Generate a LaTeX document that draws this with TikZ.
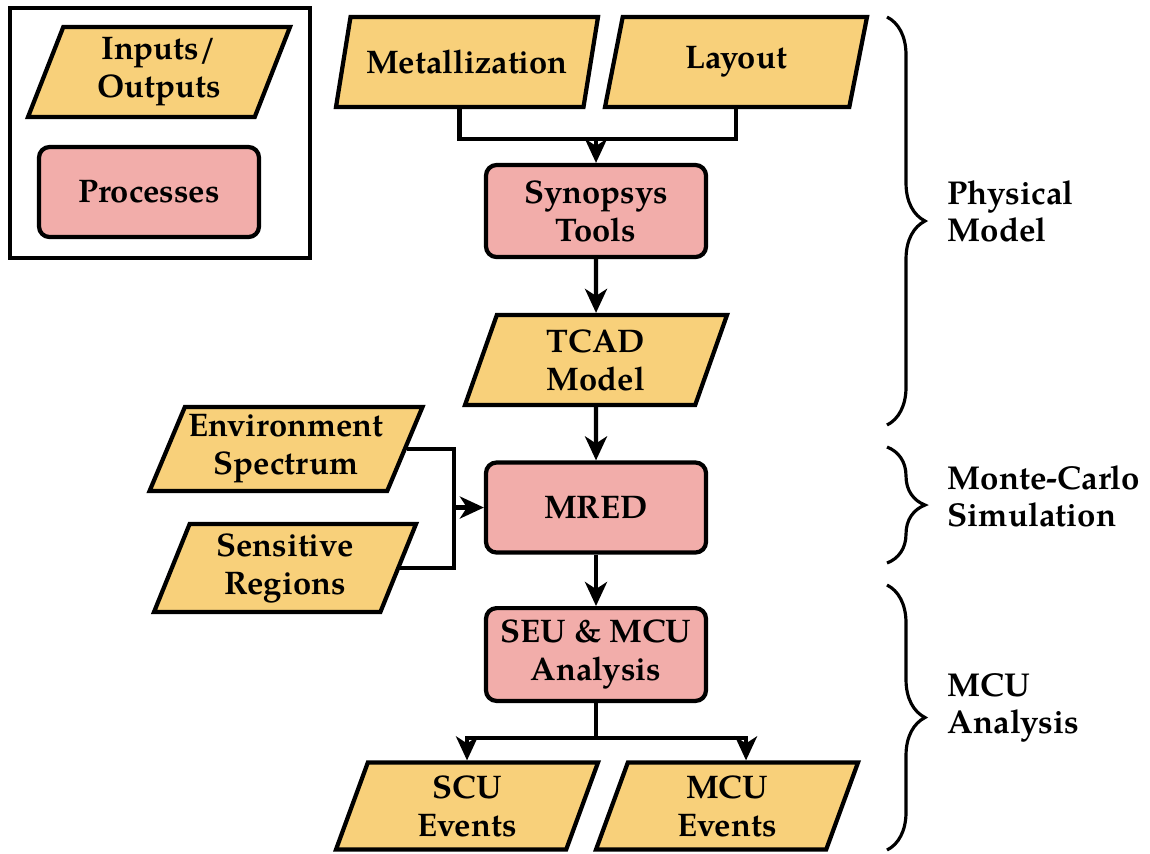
\documentclass[tikz,border=0pt]{standalone}
\usepackage{fontspec}
\setmainfont{TeX Gyre Pagella}
\usetikzlibrary{shapes.geometric, arrows.meta, positioning, calc, decorations.pathreplacing}
\definecolor{iofill}{HTML}{F8D07A}
\definecolor{procfill}{HTML}{F2ADAA}

\begin{document}
\begin{tikzpicture}[
    every node/.style={font=\fontsize{9.3}{10.8}\selectfont\bfseries},
    io/.style={trapezium, trapezium left angle=65, trapezium right angle=115,
               trapezium stretches body, draw, line width=1.2pt, fill=iofill,
               minimum width=2.62cm, minimum height=0.9cm, align=center, inner sep=1pt},
    proc/.style={rectangle, draw, line width=1.2pt, fill=procfill, rounded corners=3pt,
                 minimum width=2.2cm, minimum height=0.9cm, align=center},
    arr/.style={-{Stealth[length=2.4mm, width=2.2mm, inset=0.7mm]}, line width=1.2pt},
    wire/.style={line width=1.2pt},
    brc/.style={decorate, decoration={brace, amplitude=0.38cm}, line width=0.9pt},
    grp/.style={anchor=west, align=left, inner sep=0pt, font=\fontsize{9.4}{10.6}\selectfont\bfseries}
]
    \useasboundingbox (0,0) rectangle (11.5,-8.53);

    % legend
    \node[draw, line width=1.2pt, minimum width=3cm, minimum height=2.5cm] (legend) at (1.60,-1.33) {};
    \node[io]   (legio)   at (1.59,-0.72) {Inputs/\\Outputs};
    \node[proc] (legproc) at (1.49,-1.92) {Processes};

    % physical model
    \node[io]   (met)  at (4.67,-0.62) {Metallization};
    \node[io]   (lay)  at (7.36,-0.62) {Layout};
    \node[proc, minimum height=0.92cm] (syn)  at (5.96,-2.11) {Synopsys\\Tools};
    \node[io]                          (tcad) at (5.96,-3.60) {TCAD\\Model};

    % monte-carlo
    \node[proc] (mred) at (5.96,-5.075) {MRED};
    \node[io, minimum height=0.84cm] (env)  at (2.86,-4.49) {Environment\\Spectrum};
    \node[io, minimum height=0.88cm] (sens) at (2.85,-5.68) {Sensitive\\Regions};

    % analysis
    \node[proc, minimum height=0.86cm] (seu) at (5.96,-6.545) {SEU \& MCU\\Analysis};
    \node[io, minimum height=0.87cm] (scu) at (4.67,-8.06) {SCU\\Events};
    \node[io, minimum height=0.87cm] (mcu) at (7.27,-8.06) {MCU\\Events};

    \draw[wire] (met.bottom side) -- ++(0,-0.30) coordinate (mlrow) -| (lay.south);
    \draw[arr]  (syn.north |- mlrow) -- (syn.north);
    \draw[arr]  (syn) -- (tcad);
    \draw[arr]  (tcad) -- (mred);
    \draw[wire] (env.east) -- ++(0.47,0) coordinate (ej) |- (sens.east);
    \draw[arr]  (ej |- mred) -- (mred.west);
    \draw[arr]  (mred) -- (seu);
    \draw[wire] (seu.south) -- ++(0,-0.35) coordinate (split);
    \draw[arr]  (split) -| (scu.north);
    \draw[arr]  (split) -| ([xshift=0.19cm]mcu.north);

    % braces
    \coordinate (b1t) at (8.87,-0.17);
    \coordinate (b1b) at (8.87,-4.25);
    \coordinate (b2t) at (8.87,-4.47);
    \coordinate (b2b) at (8.87,-5.63);
    \coordinate (b3t) at (8.87,-5.85);
    \coordinate (b3b) at (8.87,-8.50);
    \draw[brc] (b1t) -- (b1b);
    \draw[brc] (b2t) -- (b2b);
    \draw[brc] (b3t) -- (b3b);
    \node[grp] (phys)  at (9.47,-2.11) {Physical\\Model};
    \node[grp] (monte) at (9.47,-4.96) {Monte-Carlo\\Simulation};
    \node[grp] (anal)  at (9.47,-7.08) {MCU\\Analysis};
\end{tikzpicture}
\end{document}
